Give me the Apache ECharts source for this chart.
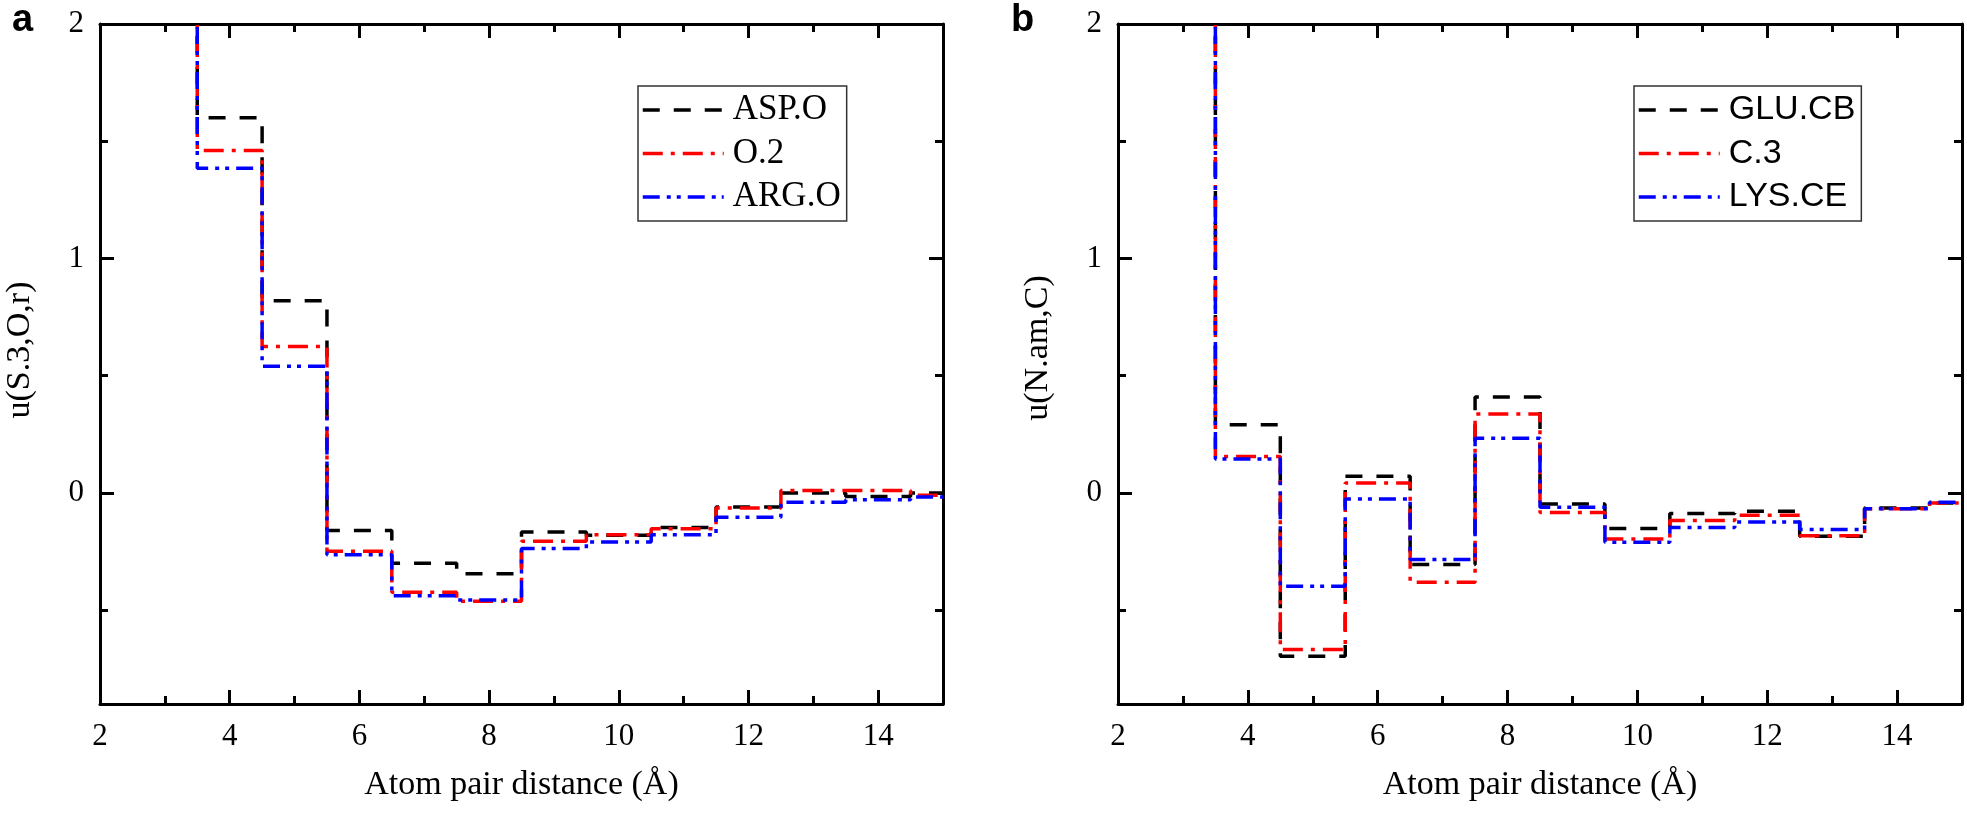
<!DOCTYPE html>
<html>
<head>
<meta charset="utf-8">
<script src="https://cdn.jsdelivr.net/npm/echarts@6/dist/echarts.min.js"></script>
<style>
html,body{margin:0;padding:0;background:#fff;}
#chart{width:1967px;height:815px;}
</style>
</head>
<body>
<div id="chart"></div>
<script>
// ---- data ----
const distance = [3, 4, 5, 6, 7, 8, 9, 10, 11, 12, 13, 14, 15];
// panel a : u(S.3,O,r)   (first value is off-scale, above the axis)
const aspO  = [3.0, 1.60, 0.82, -0.16, -0.30, -0.345, -0.166, -0.18, -0.147, -0.06, 0.0, -0.015, 0.0];
const o2    = [3.0, 1.46, 0.625, -0.249, -0.423, -0.462, -0.206, -0.178, -0.153, -0.064, 0.01, 0.01, -0.01];
const argO  = [3.0, 1.385, 0.54, -0.263, -0.438, -0.457, -0.237, -0.209, -0.178, -0.104, -0.04, -0.029, -0.017];
// panel b : u(N.am,C)
const gluCB = [3.0, 0.291, -0.696, 0.071, -0.305, 0.409, -0.047, -0.152, -0.088, -0.078, -0.185, -0.064, -0.043];
const c3    = [3.0, 0.156, -0.668, 0.043, -0.381, 0.337, -0.083, -0.196, -0.117, -0.095, -0.182, -0.067, -0.043];
const lysCE = [3.0, 0.145, -0.398, -0.026, -0.284, 0.233, -0.061, -0.21, -0.147, -0.124, -0.156, -0.067, -0.04];

const xMajorTicks = [2, 4, 6, 8, 10, 12, 14];
const xMinorTicks = [3, 5, 7, 9, 11, 13];
const yMajorTicks = [0, 1, 2];
const yMinorTicks = [-0.5, 0.5, 1.5];

const seriesNamesA = ['ASP.O', 'O.2', 'ARG.O'];
const seriesNamesB = ['GLU.CB', 'C.3', 'LYS.CE'];
const xTitle = 'Atom pair distance (Å)';
const yTitleA = 'u(S.3,O,r)';
const yTitleB = 'u(N.am,C)';

// ---- styles ----
const SERIF = '"Liberation Serif", "Times New Roman", serif';
const SANS = '"Liberation Sans", Arial, sans-serif';
const lineStyles = [
  {color: '#000000', type: [17, 14]},
  {color: '#ff0000', type: [20, 8, 4, 8]},
  {color: '#0000ff', type: [17, 7, 4, 6, 4, 7]}
];

function makeAxes(dim, gridIndex, positions, min, max, major, minor) {
  const axes = [];
  positions.forEach(function (pos, pi) {
    const showLabel = pi === 0;
    axes.push({
      type: 'value', gridIndex: gridIndex, position: pos, min: min, max: max,
      axisLine: {show: true, onZero: false, lineStyle: {color: '#000', width: 3}},
      splitLine: {show: false},
      axisTick: {show: true, inside: true, length: 14, customValues: major,
                 lineStyle: {color: '#000', width: 3}},
      axisLabel: {show: showLabel, customValues: major, color: '#000',
                  fontFamily: SERIF, fontSize: 31, margin: dim === 'x' ? 17 : 16},
      name: (dim === 'x' && showLabel) ? xTitle : '',
      nameLocation: 'middle', nameGap: 64,
      nameTextStyle: {fontFamily: SERIF, fontSize: 34, color: '#000'}
    });
    axes.push({
      type: 'value', gridIndex: gridIndex, position: pos, min: min, max: max,
      axisLine: {show: false, onZero: false},
      splitLine: {show: false},
      axisTick: {show: true, inside: true, length: 8, customValues: minor,
                 lineStyle: {color: '#000', width: 3}},
      axisLabel: {show: false}
    });
  });
  return axes;
}

const xAxes = [].concat(
  makeAxes('x', 0, ['bottom', 'top'], 2, 15, xMajorTicks, xMinorTicks),
  makeAxes('x', 1, ['bottom', 'top'], 2, 15, xMajorTicks, xMinorTicks)
);
const yAxes = [].concat(
  makeAxes('y', 0, ['left', 'right'], -0.9, 2, yMajorTicks, yMinorTicks),
  makeAxes('y', 1, ['left', 'right'], -0.9, 2, yMajorTicks, yMinorTicks)
);

function mkSeries(name, vals, idx, axisIdx) {
  return {
    name: name, type: 'line', step: 'middle',
    xAxisIndex: axisIdx, yAxisIndex: axisIdx,
    symbol: 'none', showSymbol: false, clip: true,
    lineStyle: {color: lineStyles[idx].color, width: 3.5, type: lineStyles[idx].type},
    itemStyle: {color: lineStyles[idx].color},
    data: distance.map(function (d, i) { return [d, vals[i]]; }),
    animation: false
  };
}

const series = [
  mkSeries(seriesNamesA[0], aspO, 0, 0),
  mkSeries(seriesNamesA[1], o2, 1, 0),
  mkSeries(seriesNamesA[2], argO, 2, 0),
  mkSeries(seriesNamesB[0], gluCB, 0, 4),
  mkSeries(seriesNamesB[1], c3, 1, 4),
  mkSeries(seriesNamesB[2], lysCE, 2, 4)
];

function mkLegend(names, left, font, fontSize, padding) {
  return {
    data: names, orient: 'vertical', left: left, top: 86,
    itemWidth: 81, itemHeight: 14, itemGap: 8.5,
    padding: padding, borderColor: '#333', borderWidth: 1.5,
    selectedMode: false, backgroundColor: '#fff',
    textStyle: {fontFamily: font, fontSize: fontSize, color: '#000', lineHeight: 35, padding: [0, 0, 0, 4]},
    itemStyle: {opacity: 0, borderWidth: 0},
    lineStyle: {width: 3.5}
  };
}

const option = {
  animation: false,
  backgroundColor: '#fff',
  grid: [
    {left: 100, right: 1967 - 943, top: 24, bottom: 111, containLabel: false},
    {left: 1118, right: 5, top: 24, bottom: 111, containLabel: false}
  ],
  xAxis: xAxes,
  yAxis: yAxes,
  legend: [
    mkLegend(seriesNamesA, 638, SERIF, 35, [6.5, 6, 6.5, 3]),
    mkLegend(seriesNamesB, 1634, SANS, 34, [6.5, 6, 6.5, 3])
  ],
  graphic: [
    {type: 'text', left: 12, top: 2, style: {text: 'a', font: 'bold 38px ' + SANS, fill: '#000'}},
    {type: 'text', left: 1011, top: 2, style: {text: 'b', font: 'bold 38px ' + SANS, fill: '#000'}},
    {type: 'text', x: 20, y: 350, rotation: Math.PI / 2,
     style: {text: yTitleA, font: '34px ' + SERIF, fill: '#000', align: 'center', verticalAlign: 'middle'}},
    {type: 'text', x: 1038, y: 348, rotation: Math.PI / 2,
     style: {text: yTitleB, font: '34px ' + SERIF, fill: '#000', align: 'center', verticalAlign: 'middle'}}
  ],
  series: series
};

const chart = echarts.init(document.getElementById('chart'), null, {renderer: 'canvas'});
chart.setOption(option);
</script>
</body>
</html>
